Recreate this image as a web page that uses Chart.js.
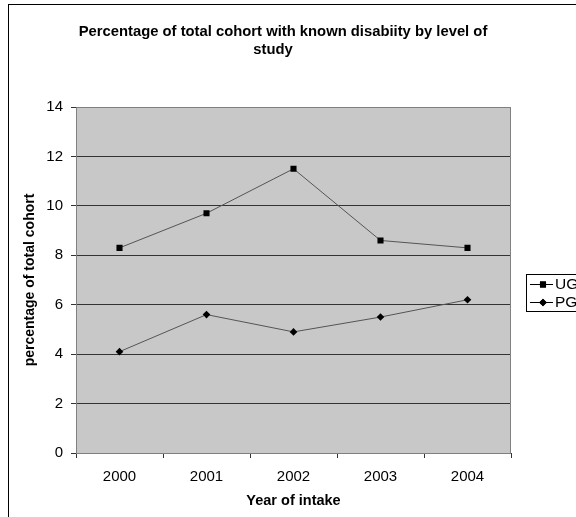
<!DOCTYPE html>
<html>
<head>
<meta charset="utf-8">
<script src="https://cdn.jsdelivr.net/npm/chart.js@4/dist/chart.umd.min.js"></script>
<style>
  html, body { margin: 0; padding: 0; background: #fff; overflow: hidden; }
  canvas { display: block; }
</style>
</head>
<body>
<canvas id="chart" width="576" height="517"></canvas>
<script>
// data
const years = ['2000', '2001', '2002', '2003', '2004'];
const ugValues = [8.3, 9.7, 11.5, 8.6, 8.3];
const pgValues = [4.1, 5.6, 4.9, 5.5, 6.2];
const yTicks = [0, 2, 4, 6, 8, 10, 12, 14];

const titleLines = ['Percentage of total cohort with known disabiity by level of', 'study'];
const xTitle = 'Year of intake';
const yTitle = 'percentage of total cohort';

const FONT = '"Liberation Sans", Arial, sans-serif';

// frame, titles and the (clipped) legend, Excel style
const excelDecor = {
  id: 'excelDecor',
  beforeDraw(chart) {
    const ctx = chart.ctx;
    const a = chart.chartArea;
    ctx.save();
    ctx.fillStyle = '#c8c8c8';
    ctx.fillRect(a.left, a.top, a.right - a.left, a.bottom - a.top);
    ctx.restore();
  },
  afterDraw(chart) {
    const ctx = chart.ctx;
    const a = chart.chartArea;
    ctx.save();
    // outer chart border
    ctx.strokeStyle = '#000';
    ctx.lineWidth = 1;
    ctx.strokeRect(8.5, 4.5, 700, 700);

    // plot border
    ctx.strokeStyle = '#808080';
    ctx.strokeRect(a.left + 0.5, a.top + 0.5, a.right - a.left - 1, a.bottom - a.top);

    // chart title
    ctx.fillStyle = '#000';
    ctx.textAlign = 'center';
    ctx.textBaseline = 'middle';
    ctx.font = 'bold 14.8px ' + FONT;
    ctx.fillText(titleLines[0], 283, 32);
    ctx.fillText(titleLines[1], 273, 50);

    // axis titles
    ctx.font = 'bold 14.5px ' + FONT;
    ctx.fillText(xTitle, (a.left + a.right) / 2, 501);
    ctx.font = 'bold 14px ' + FONT;
    ctx.save();
    ctx.translate(30, (a.top + a.bottom) / 2);
    ctx.rotate(-Math.PI / 2);
    ctx.fillText(yTitle, 0, 0);
    ctx.restore();

    // legend box (runs off the right edge like the original)
    ctx.strokeStyle = '#000';
    ctx.fillStyle = '#fff';
    ctx.fillRect(526.5, 274.5, 80, 37);
    ctx.strokeRect(526.5, 274.5, 80, 37);
    const rows = [284, 302];
    chart.data.datasets.forEach((ds, i) => {
      const y = rows[i];
      ctx.strokeStyle = '#000';
      ctx.beginPath();
      ctx.moveTo(530, y + 0.5);
      ctx.lineTo(553, y + 0.5);
      ctx.stroke();
      ctx.fillStyle = '#000';
      Chart.helpers.drawPoint(ctx, {
        pointStyle: ds.pointStyle, radius: ds.pointRadius, borderWidth: 0
      }, 543, y + 0.5);
      ctx.fill();
      ctx.textAlign = 'left';
      ctx.font = '15.5px ' + FONT;
      ctx.fillText(ds.label, 555, y + 1);
    });
    ctx.restore();
  }
};

new Chart(document.getElementById('chart'), {
  type: 'line',
  data: {
    labels: years,
    datasets: [
      {
        label: 'UG',
        data: ugValues,
        borderColor: '#555',
        borderWidth: 1,
        pointStyle: 'rect',
        pointRadius: 4.3,
        pointBackgroundColor: '#000',
        pointBorderColor: '#000',
        pointBorderWidth: 0,
        tension: 0
      },
      {
        label: 'PG',
        data: pgValues,
        borderColor: '#555',
        borderWidth: 1,
        pointStyle: 'rectRot',
        pointRadius: 3.8,
        pointBackgroundColor: '#000',
        pointBorderColor: '#000',
        pointBorderWidth: 0,
        tension: 0
      }
    ]
  },
  options: {
    responsive: false,
    maintainAspectRatio: false,
    animation: false,
    layout: { padding: { left: 0, top: 107, right: 65, bottom: 0 } },
    plugins: {
      legend: { display: false },
      title: { display: false },
      tooltip: { enabled: false }
    },
    scales: {
      x: {
        offset: true,
        grid: {
          offset: true,
          drawOnChartArea: false,
          drawTicks: true,
          tickLength: 5,
          tickColor: '#333'
        },
        border: { display: true, color: '#333', width: 1 },
        ticks: {
          color: '#000',
          padding: 10,
          font: { family: FONT, size: 15 }
        },
        afterFit(scale) { scale.height = 64; }
      },
      y: {
        min: 0,
        max: 14,
        afterBuildTicks(scale) { scale.ticks = yTicks.map(v => ({ value: v })); },
        grid: {
          color: '#333',
          lineWidth: 1,
          tickLength: 5,
          tickColor: '#333'
        },
        border: { display: true, color: '#808080', width: 1 },
        ticks: {
          color: '#000',
          padding: 8,
          font: { family: FONT, size: 15 }
        },
        afterFit(scale) { scale.width = 76; }
      }
    }
  },
  plugins: [excelDecor]
});
</script>
</body>
</html>
